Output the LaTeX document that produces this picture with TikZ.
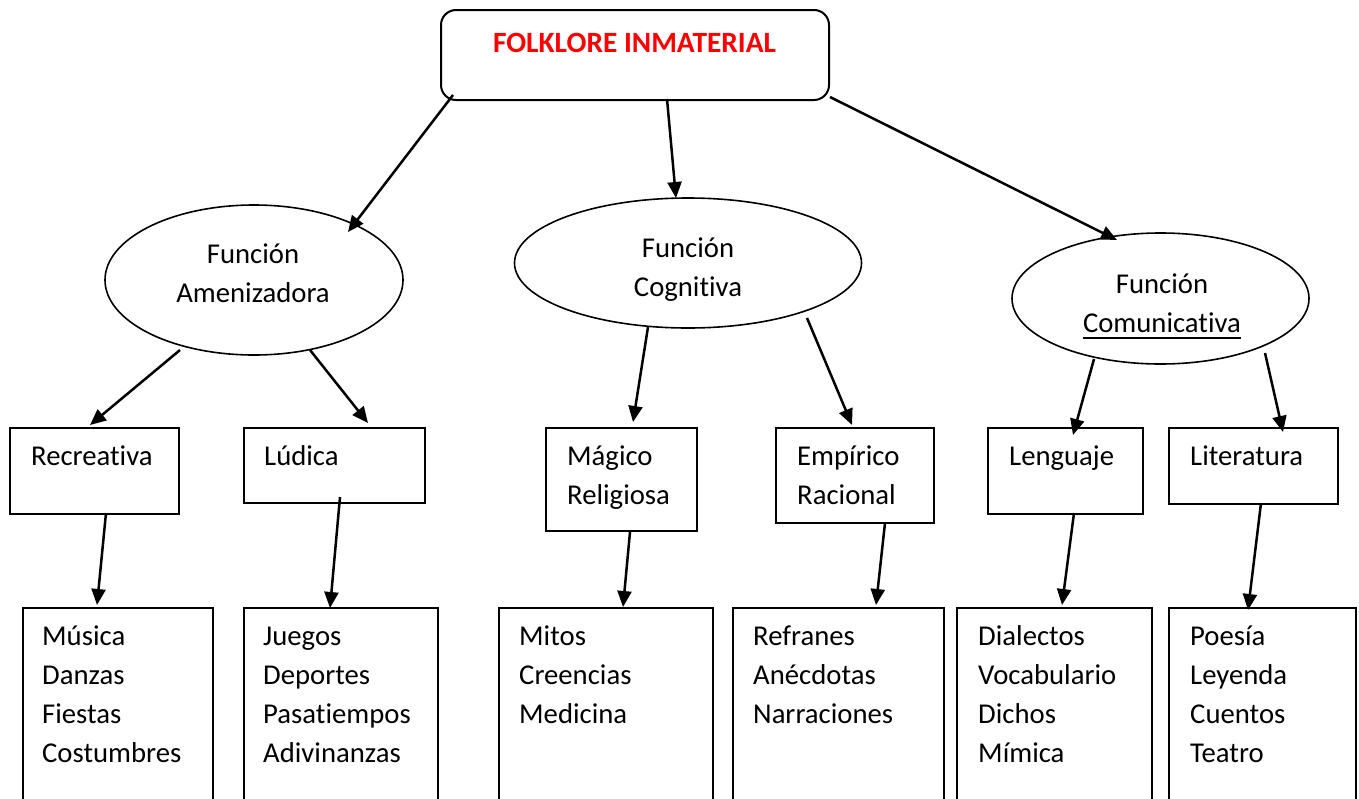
\documentclass[tikz,border=0pt]{standalone}
\usepackage{fontspec}
\setmainfont{Carlito}[Ligatures={NoCommon}]
\usetikzlibrary{arrows.meta,shapes.geometric}
\newcommand\LeftLines[1]{\vtop{\baselineskip=39pt\lineskiplimit=-100pt\lineskip=0pt\halign{##\hfil\cr#1\crcr}}}
\newcommand\CenterLines[1]{\vtop{\baselineskip=39pt\lineskiplimit=-100pt\lineskip=0pt\halign{\hfil##\hfil\cr#1\crcr}}}
\newcommand\ulword[1]{\setbox0\hbox{#1}\rlap{\vrule width\wd0 height-5pt depth 6.5pt}\box0}
\begin{document}
\begin{tikzpicture}[x=1pt,y=-1pt,
  font=\fontsize{28.7}{39}\selectfont,
  box/.style={draw, line width=2pt, rectangle, anchor=north west, inner sep=0pt},
  oval/.style={draw, ellipse, line width=1.6pt, inner sep=0pt},
  arr/.style={line width=2.5pt, -{Triangle[length=16pt,width=14pt]}},
  txt/.style={inner sep=0pt, anchor=base west},
  ctxt/.style={inner sep=0pt, anchor=base}]
\useasboundingbox (0,0) rectangle (1359,798);
\fill[white] (0,0) rectangle (1359,798);
\clip (0,0) rectangle (1359,798);

% top
\node[box, rounded corners=15pt, minimum width=388pt, minimum height=90pt] (top) at (440,9) {};
\node[ctxt, text=red, font=\fontsize{29.4}{39}\selectfont\bfseries] (toptxt) at (634.5,52) {FOLKLORE INMATERIAL};

% ellipses
\node[oval, minimum width=298pt, minimum height=150pt] (amen) at (254,280) {};
\node[ctxt] (amentxt) at (253,263) {\CenterLines{Función\cr Amenizadora}};
\node[oval, minimum width=347pt, minimum height=130pt] (cog) at (688,263) {};
\node[ctxt] (cogtxt) at (688,257) {\CenterLines{Función\cr Cognitiva}};
\node[oval, minimum width=297pt, minimum height=131pt] (com) at (1160.5,298.5) {};
\node[ctxt] (comtxt) at (1162,293) {\CenterLines{Función\cr \ulword{Comunicativa}}};

% middle boxes
\node[box, minimum width=169pt, minimum height=86pt] (rec) at (9,427) {};
\node[txt] (rectxt) at (31,465) {Recreativa};
\node[box, minimum width=181pt, minimum height=75pt] (lud) at (243,427) {};
\node[txt] (ludtxt) at (264,465) {Lúdica};
\node[box, minimum width=151pt, minimum height=103pt] (mag) at (545,427) {};
\node[txt] (magtxt) at (567,465) {\LeftLines{Mágico\cr Religiosa}};
\node[box, minimum width=158pt, minimum height=95pt] (emp) at (775,427) {};
\node[txt] (emptxt) at (797,465) {\LeftLines{Empírico\cr Racional}};
\node[box, minimum width=155pt, minimum height=86pt] (len) at (987,427) {};
\node[txt] (lentxt) at (1009,465) {Lenguaje};
\node[box, minimum width=169pt, minimum height=76pt] (lit) at (1168,427) {};
\node[txt] (littxt) at (1190,465) {Literatura};

% bottom boxes
\node[box, minimum width=190pt, minimum height=240pt] (b1) at (22,607) {};
\node[txt] (b1txt) at (42,645) {\LeftLines{Música\cr Danzas\cr Fiestas\cr Costumbres}};
\node[box, minimum width=194pt, minimum height=240pt] (b2) at (243,607) {};
\node[txt] (b2txt) at (263,645) {\LeftLines{Juegos\cr Deportes\cr Pasatiempos\cr Adivinanzas}};
\node[box, minimum width=214pt, minimum height=240pt] (b3) at (498,607) {};
\node[txt] (b3txt) at (519,645) {\LeftLines{Mitos\cr Creencias\cr Medicina}};
\node[box, minimum width=211pt, minimum height=240pt] (b4) at (732,607) {};
\node[txt] (b4txt) at (753,645) {\LeftLines{Refranes\cr Anécdotas\cr Narraciones}};
\node[box, minimum width=195pt, minimum height=240pt] (b5) at (956,607) {};
\node[txt] (b5txt) at (978,645) {\LeftLines{Dialectos\cr Vocabulario\cr Dichos\cr Mímica}};
\node[box, minimum width=187pt, minimum height=240pt] (b6) at (1168,607) {};
\node[txt] (b6txt) at (1190,645) {\LeftLines{Poesía\cr Leyenda\cr Cuentos\cr Teatro}};

% arrows
\draw[arr] ([shift={(13,86)}]top.north west) -- ([shift={(94,-48)}]amen.center);
\draw[arr] ([shift={(227,90)}]top.north west) -- ([shift={(-12,-65)}]cog.center);
\draw[arr] ([shift={(390,88)}]top.north west) -- ([shift={(-43.5,-58.5)}]com.center);
\draw[arr] ([shift={(-74,70)}]amen.center) -- ([shift={(81,-2)}]rec.north west);
\draw[arr] ([shift={(56,70)}]amen.center) -- ([shift={(125,-4)}]lud.north west);
\draw[arr] ([shift={(-40,64)}]cog.center) -- ([shift={(88,-5)}]mag.north west);
\draw[arr] ([shift={(119,55)}]cog.center) -- ([shift={(77,-2)}]emp.north west);
\draw[arr] ([shift={(-66.5,60.5)}]com.center) -- ([shift={(86,8)}]len.north west);
\draw[arr] ([shift={(104.5,54.5)}]com.center) -- ([shift={(115,5)}]lit.north west);
\draw[arr] ([shift={(97,86)}]rec.north west) -- ([shift={(75,-2)}]b1.north west);
\draw[arr] ([shift={(97,70)}]lud.north west) -- ([shift={(87,1)}]b2.north west);
\draw[arr] ([shift={(85,105)}]mag.north west) -- ([shift={(125,0)}]b3.north west);
\draw[arr] ([shift={(110,96)}]emp.north west) -- ([shift={(144,-2)}]b4.north west);
\draw[arr] ([shift={(87,86)}]len.north west) -- ([shift={(106,-2)}]b5.north west);
\draw[arr] ([shift={(93,76)}]lit.north west) -- ([shift={(80,3)}]b6.north west);
\end{tikzpicture}
\end{document}
